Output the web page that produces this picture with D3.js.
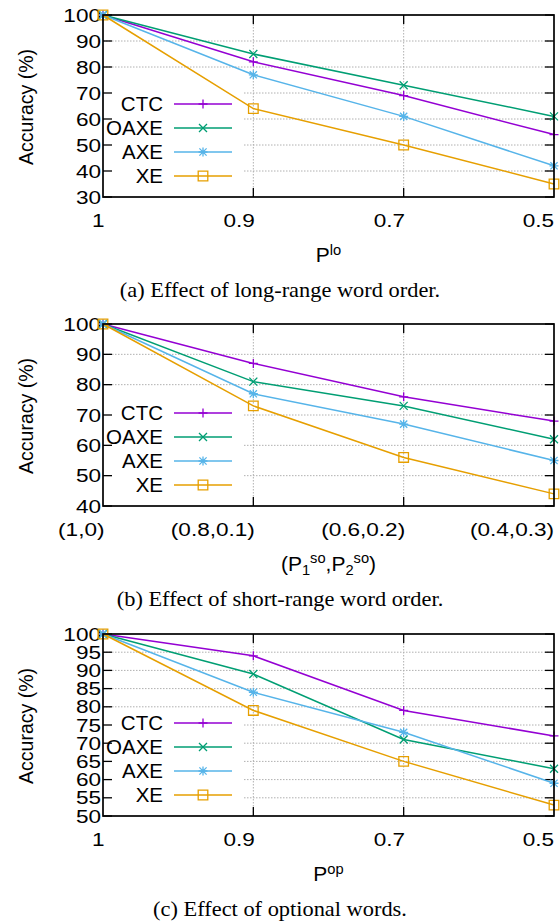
<!DOCTYPE html>
<html>
<head>
<meta charset="utf-8">
<script src="https://cdn.jsdelivr.net/npm/d3@7"></script>
<style>
  html, body { margin: 0; padding: 0; background: #fff; }
  svg { display: block; }
</style>
</head>
<body>
<svg id="chart" width="560" height="923"></svg>
<script>
// ---------------- DATA ----------------
const seriesNames = ["CTC", "OAXE", "AXE", "XE"];
const seriesColors = ["#9400d3", "#009e73", "#56b4e9", "#e69f00"];
const seriesMarkers = ["plus", "cross", "star", "square"];

// Panel (a): long-range word order
const xLabelsA = ["1", "0.9", "0.7", "0.5"];
const ctcA  = [100, 82, 69, 54];
const oaxeA = [100, 85, 73, 61];
const axeA  = [100, 77, 61, 42];
const xeA   = [100, 64, 50, 35];
const yTicksA = [30, 40, 50, 60, 70, 80, 90, 100];

// Panel (b): short-range word order
const xLabelsB = ["(1,0)", "(0.8,0.1)", "(0.6,0.2)", "(0.4,0.3)"];
const ctcB  = [100, 87, 76, 68];
const oaxeB = [100, 81, 73, 62];
const axeB  = [100, 77, 67, 55];
const xeB   = [100, 73, 56, 44];
const yTicksB = [40, 50, 60, 70, 80, 90, 100];

// Panel (c): optional words
const xLabelsC = ["1", "0.9", "0.7", "0.5"];
const ctcC  = [100, 94, 79, 72];
const oaxeC = [100, 89, 71, 63];
const axeC  = [100, 84, 73, 59];
const xeC   = [100, 79, 65, 53];
const yTicksC = [50, 55, 60, 65, 70, 75, 80, 85, 90, 95, 100];

const captions = [
  "(a) Effect of long-range word order.",
  "(b) Effect of short-range word order.",
  "(c) Effect of optional words."
];

// ---------------- LAYOUT ----------------
const svg = d3.select("#chart");
const L = 103, R = 554, H = 182;
const tops = [15, 324, 634];
const SANS = "'Liberation Sans', Arial, Helvetica, sans-serif";
const SERIF = "'Liberation Serif', 'Times New Roman', serif";
const TICK_FS = 18.5, TICK_SX = 1.22;

function stretchedText(g, x, y, txt, opts) {
  const t = g.append("text")
    .attr("transform", `translate(${x},${y}) scale(${opts.sx || 1},1)`)
    .attr("font-family", opts.family || SANS)
    .attr("font-size", opts.size)
    .attr("text-anchor", opts.anchor || "middle")
    .attr("fill", "#000");
  if (txt !== null) t.text(txt);
  return t;
}

function marker(g, type, cx, cy, color) {
  const s = 4.5;
  const p = g.append("path").attr("fill", "none").attr("stroke", color).attr("stroke-width", 1.3);
  if (type === "plus") {
    p.attr("d", `M${cx - s},${cy}H${cx + s}M${cx},${cy - s}V${cy + s}`);
  } else if (type === "cross") {
    const c = 4;
    p.attr("d", `M${cx - c},${cy - c}L${cx + c},${cy + c}M${cx - c},${cy + c}L${cx + c},${cy - c}`);
  } else if (type === "star") {
    const c = 3.6;
    p.attr("d", `M${cx - s},${cy}H${cx + s}M${cx},${cy - s}V${cy + s}M${cx - c},${cy - c}L${cx + c},${cy + c}M${cx - c},${cy + c}L${cx + c},${cy - c}`);
  } else {
    p.attr("d", `M${cx - 4.8},${cy - 4.8}h9.6v9.6h-9.6Z`);
  }
}

function drawPanel(idx, xLabels, series, yTicks, xTitleFn) {
  const top = tops[idx], bottom = top + H;
  const g = svg.append("g");
  const x = d3.scalePoint().domain(d3.range(xLabels.length)).range([L, R]).padding(0);
  const y = d3.scaleLinear().domain([yTicks[0], yTicks[yTicks.length - 1]]).range([bottom, top]);

  // grid
  const grid = g.append("g").attr("stroke", "#b0b0b0").attr("stroke-width", 1).attr("stroke-dasharray", "1.5,1.5");
  yTicks.slice(1, -1).forEach(v => {
    grid.append("line").attr("x1", L).attr("x2", R).attr("y1", y(v)).attr("y2", y(v));
  });
  d3.range(1, xLabels.length - 1).forEach(i => {
    grid.append("line").attr("x1", x(i)).attr("x2", x(i)).attr("y1", top).attr("y2", bottom);
  });

  // legend opaque box
  g.append("rect").attr("x", L + 1).attr("y", top + 75).attr("width", 140).attr("height", H - 76).attr("fill", "#fff");

  // ticks (inside)
  const tk = g.append("g").attr("stroke", "#000").attr("stroke-width", 1.3);
  yTicks.forEach(v => {
    tk.append("line").attr("x1", L).attr("x2", L + 9).attr("y1", y(v)).attr("y2", y(v));
    tk.append("line").attr("x1", R - 9).attr("x2", R).attr("y1", y(v)).attr("y2", y(v));
  });
  d3.range(1, xLabels.length - 1).forEach(i => {
    tk.append("line").attr("x1", x(i)).attr("x2", x(i)).attr("y1", bottom).attr("y2", bottom - 9);
    tk.append("line").attr("x1", x(i)).attr("x2", x(i)).attr("y1", top).attr("y2", top + 9);
  });

  // y tick labels
  yTicks.forEach(v => {
    stretchedText(g, L - 2, y(v) + 6.6, String(v), { size: TICK_FS, sx: TICK_SX, anchor: "end" });
  });
  // x tick labels (right-justified at the tick, as in the reference)
  xLabels.forEach((lab, i) => {
    stretchedText(g, Math.min(x(i) + 1.5, R), bottom + 30, lab, { size: TICK_FS, sx: TICK_SX, anchor: "end" });
  });

  // y axis title
  g.append("text")
    .attr("transform", `translate(33,${top + 92}) rotate(-90)`)
    .attr("font-family", SANS).attr("font-size", 19.5).attr("text-anchor", "middle")
    .text("Accuracy (%)");

  // x axis title
  xTitleFn(g, (L + R) / 2, bottom + 65);

  // caption
  stretchedText(g, 280, bottom + 100, captions[idx], { size: 20, sx: 1.12, family: SERIF, anchor: "middle" });

  // legend
  series.forEach((vals, k) => {
    const ly = top + 89 + k * 24;
    stretchedText(g, 163, ly + 7.3, seriesNames[k], { size: 20.5, sx: 1, anchor: "end" });
    g.append("line").attr("x1", 174).attr("x2", 232).attr("y1", ly).attr("y2", ly)
      .attr("stroke", seriesColors[k]).attr("stroke-width", 1.5);
    marker(g, seriesMarkers[k], 203, ly, seriesColors[k]);
  });

  // data lines + points
  const line = d3.line().x((d, i) => x(i)).y(d => y(d));
  series.forEach((vals, k) => {
    g.append("path").attr("d", line(vals)).attr("fill", "none")
      .attr("stroke", seriesColors[k]).attr("stroke-width", 1.5);
    vals.forEach((v, i) => marker(g, seriesMarkers[k], x(i), y(v), seriesColors[k]));
  });

  // border
  g.append("rect").attr("x", L).attr("y", top).attr("width", R - L).attr("height", H)
    .attr("fill", "none").attr("stroke", "#000").attr("stroke-width", 1.7);
}

function titleSimple(main, sup) {
  return function (g, cx, by) {
    const t = stretchedText(g, cx, by, null, { size: 20, sx: 1.05, anchor: "middle" });
    t.append("tspan").text(main);
    t.append("tspan").attr("font-size", 14).attr("dy", -7).text(sup);
  };
}

function titleB(g, cx, by) {
  const t = stretchedText(g, cx, by, null, { size: 20, sx: 1.05, anchor: "middle" });
  t.append("tspan").text("(P");
  t.append("tspan").attr("font-size", 14).attr("dy", 4).text("1");
  t.append("tspan").attr("font-size", 14).attr("dy", -12).text("so");
  t.append("tspan").attr("dy", 8).text(",P");
  t.append("tspan").attr("font-size", 14).attr("dy", 4).text("2");
  t.append("tspan").attr("font-size", 14).attr("dy", -12).text("so");
  t.append("tspan").attr("dy", 8).text(")");
}

drawPanel(0, xLabelsA, [ctcA, oaxeA, axeA, xeA], yTicksA, titleSimple("P", "lo"));
drawPanel(1, xLabelsB, [ctcB, oaxeB, axeB, xeB], yTicksB, titleB);
drawPanel(2, xLabelsC, [ctcC, oaxeC, axeC, xeC], yTicksC, titleSimple("P", "op"));
</script>
</body>
</html>
